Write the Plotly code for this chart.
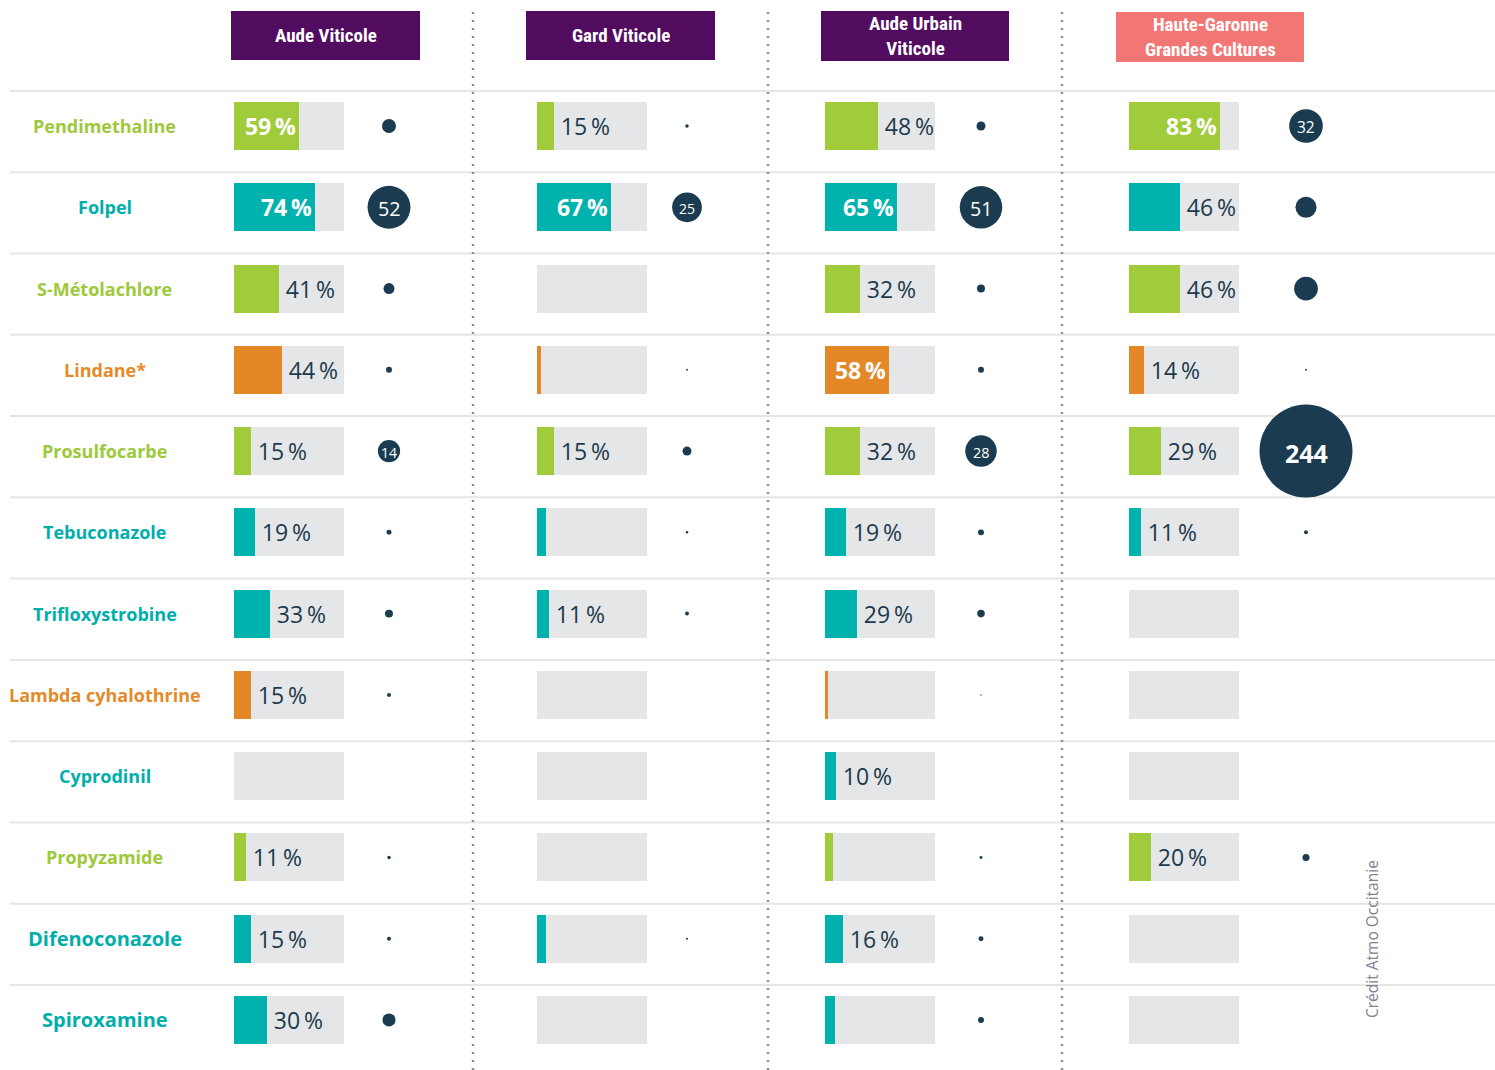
import plotly.graph_objects as go

W, H = 1495, 1070

# ---------------- data ----------------
pesticides = ["Pendimethaline", "Folpel", "S-Métolachlore", "Lindane*", "Prosulfocarbe",
              "Tebuconazole", "Trifloxystrobine", "Lambda cyhalothrine", "Cyprodinil",
              "Propyzamide", "Difenoconazole", "Spiroxamine"]
families = ["herbicide", "fongicide", "herbicide", "insecticide", "herbicide",
            "fongicide", "fongicide", "insecticide", "fongicide",
            "herbicide", "fongicide", "fongicide"]

sites = ["Aude Viticole", "Gard Viticole", "Aude Urbain<br>Viticole",
         "Haute-Garonne<br>Grandes Cultures"]

# detection frequency (%)
freq_aude_viticole = [59, 74, 41, 44, 15, 19, 33, 15, None, 11, 15, 30]
freq_gard_viticole = [15, 67, None, 4, 15, 8, 11, None, None, None, 8, None]
freq_aude_urbain = [48, 65, 32, 58, 32, 19, 29, 3, 10, 7, 16, 9]
freq_haute_garonne = [83, 46, 46, 14, 29, 11, None, None, None, 20, None, None]

# concentration (bubble size)
conc_aude_viticole = [5.5, 52, 3.4, 1.0, 14, 0.7, 1.8, 0.45, None, 0.35, 0.45, 4.8]
conc_gard_viticole = [0.35, 25, None, 0.1, 2.3, 0.18, 0.45, None, None, None, 0.12, None]
conc_aude_urbain = [2.3, 51, 1.8, 1.0, 28, 1.0, 1.6, 0.06, None, 0.25, 0.7, 1.0]
conc_haute_garonne = [32, 12.5, 16, 0.1, 244, 0.45, None, None, None, 1.4, None, None]

# bubbles carrying a value label
labelled_aude_viticole = ["Folpel", "Prosulfocarbe"]
labelled_gard_viticole = ["Folpel"]
labelled_aude_urbain = ["Folpel", "Prosulfocarbe"]
labelled_haute_garonne = ["Pendimethaline", "Prosulfocarbe"]

FULL = 100  # grey background = 100 %

# ---------------- styles ----------------
freqs = [freq_aude_viticole, freq_gard_viticole, freq_aude_urbain, freq_haute_garonne]
concs = [conc_aude_viticole, conc_gard_viticole, conc_aude_urbain, conc_haute_garonne]
labelled = [labelled_aude_viticole, labelled_gard_viticole, labelled_aude_urbain,
            labelled_haute_garonne]

family_colors = {"herbicide": "#a0cb3a", "fongicide": "#00b2ae", "insecticide": "#e48827"}
label_colors = {"herbicide": "#9dc93b", "fongicide": "#00aeab", "insecticide": "#e48a2a"}
header_colors = ["#510c5f", "#510c5f", "#510c5f", "#f27673"]
DARK = "#1b3a4e"
BUBBLE = "#1a3b50"
GREY = "#e5e6e8"
FONT = "Open Sans, Liberation Sans, sans-serif"

bar_left_px = [234, 537, 825, 1129]
bar_w_px = 110
bubble_px = [389, 687, 981, 1306]
span_px = 240
header_px = [(231, 420, 11, 60), (526, 715, 11, 60), (821, 1009, 11, 61), (1116, 1304, 12, 62)]
divider_px = [473, 768, 1062]

row0_px, row_step_px = 126, 81.27
y_top = -row0_px / row_step_px
y_bot = (H - row0_px) / row_step_px
bar_h = 48 / row_step_px
line_off = 35 / row_step_px

SIZEREF = 0.0565
THIN = "\u2009"

fig = go.Figure()
layout_axes = {}
annotations = []

for k in range(4):
    xname = "x" if k == 0 else f"x{k + 1}"
    axkey = "xaxis" if k == 0 else f"xaxis{k + 1}"
    x0 = bar_left_px[k]
    layout_axes[axkey] = dict(domain=[x0 / W, (x0 + span_px) / W],
                              range=[0, FULL * span_px / bar_w_px],
                              visible=False, fixedrange=True, anchor="y")
    fr = freqs[k]
    # background bars
    fig.add_trace(go.Bar(y=pesticides, x=[FULL] * len(pesticides), orientation="h",
                         width=bar_h, marker=dict(color=GREY, line=dict(width=0)),
                         xaxis=xname, yaxis="y", hoverinfo="skip"))
    # value bars
    texts, pos = [], []
    for v in fr:
        if v is None or v < 10:
            texts.append("")
            pos.append("none")
        elif v >= 50:
            texts.append(f"{v}{THIN}%")
            pos.append("inside")
        else:
            texts.append(f"{THIN}{v}{THIN}%")
            pos.append("outside")
    fig.add_trace(go.Bar(y=pesticides, x=fr, orientation="h", width=bar_h,
                         marker=dict(color=[family_colors[f] for f in families],
                                     line=dict(width=0)),
                         text=texts, textposition=pos, insidetextanchor="end",
                         textangle=0, constraintext="none", cliponaxis=False,
                         insidetextfont=dict(family=FONT, size=23, color="white",
                                             weight="bold"),
                         outsidetextfont=dict(family=FONT, size=23, color=DARK),
                         xaxis=xname, yaxis="y", hoverinfo="skip"))
    # bubbles
    cv = concs[k]
    bvals, bxs = [], []
    bx = FULL * (bubble_px[k] - x0) / bar_w_px
    for name, v in zip(pesticides, cv):
        bvals.append(v if v is not None else 0)
        bxs.append(bx if v is not None else None)
        if v is not None and name in labelled[k]:
            d = 2 * (v / (2 * SIZEREF)) ** 0.5
            big = v >= 100
            annotations.append(dict(xref=xname, yref="y", x=bx, y=name,
                                    text=f"<b>{v}</b>" if big else f"{v}",
                                    showarrow=False, xanchor="center", yanchor="middle",
                                    yshift=-2 if big else -1,
                                    font=dict(family=FONT, color="white",
                                              size=min(25, max(14, 0.46 * d)))))
    fig.add_trace(go.Scatter(y=pesticides, x=bxs, mode="markers",
                             marker=dict(size=bvals, sizemode="area", sizeref=SIZEREF,
                                         color=BUBBLE, opacity=1, line=dict(width=0)),
                             cliponaxis=False, xaxis=xname, yaxis="y", hoverinfo="skip"))

shapes = []

# row separators
for i in range(len(pesticides)):
    shapes.append(dict(type="line", xref="paper", yref="y", x0=10 / W, x1=1,
                       y0=i - line_off, y1=i - line_off,
                       line=dict(color="#e6e6e6", width=2), layer="below"))
# dotted dividers
for xp in divider_px:
    shapes.append(dict(type="line", xref="paper", yref="paper", x0=xp / W, x1=xp / W,
                       y0=0, y1=1 - 10 / H,
                       line=dict(color="#8a90a0", width=2.5, dash="2px,6px"), layer="below"))
# headers
for (xa, xb, ya, yb), txt, col in zip(header_px, sites, header_colors):
    shapes.append(dict(type="rect", xref="paper", yref="paper", x0=xa / W, x1=xb / W,
                       y0=1 - yb / H, y1=1 - ya / H, fillcolor=col, line=dict(width=0)))
    annotations.append(dict(xref="paper", yref="paper", x=(xa + xb) / 2 / W,
                            y=1 - (ya + yb) / 2 / H, text=f"<b>{txt}</b>", showarrow=False,
                            xanchor="center", yanchor="middle",
                            font=dict(family="Liberation Sans Narrow, Arial Narrow, Roboto Condensed, Liberation Sans, sans-serif",
                                      size=19, color="white")))
# pesticide names
for i, (name, fam) in enumerate(zip(pesticides, families)):
    annotations.append(dict(xref="paper", yref="y", x=105 / W, y=name,
                            text=f"<b>{name}</b>", showarrow=False, xanchor="center",
                            yanchor="middle",
                            font=dict(family=FONT, size=20 if i >= 10 else 18,
                                      color=label_colors[fam])))
# credit
annotations.append(dict(xref="paper", yref="paper", x=1372 / W, y=1 - 939 / H,
                        text="Crédit Atmo Occitanie", textangle=-90, showarrow=False,
                        xanchor="center", yanchor="middle",
                        font=dict(family=FONT, size=15.5, color="#7d8393")))

fig.update_layout(
    width=W, height=H, margin=dict(l=0, r=0, t=0, b=0),
    paper_bgcolor="white", plot_bgcolor="white", showlegend=False,
    barmode="overlay", bargap=0,
    yaxis=dict(type="category", categoryorder="array", categoryarray=pesticides,
               range=[y_bot, y_top], visible=False, fixedrange=True, domain=[0, 1]),
    shapes=shapes, annotations=annotations,
    **layout_axes,
)

fig.write_html("out.html", config={"displayModeBar": False},
               post_script="document.body.style.margin='0';document.body.style.overflow='hidden';")
